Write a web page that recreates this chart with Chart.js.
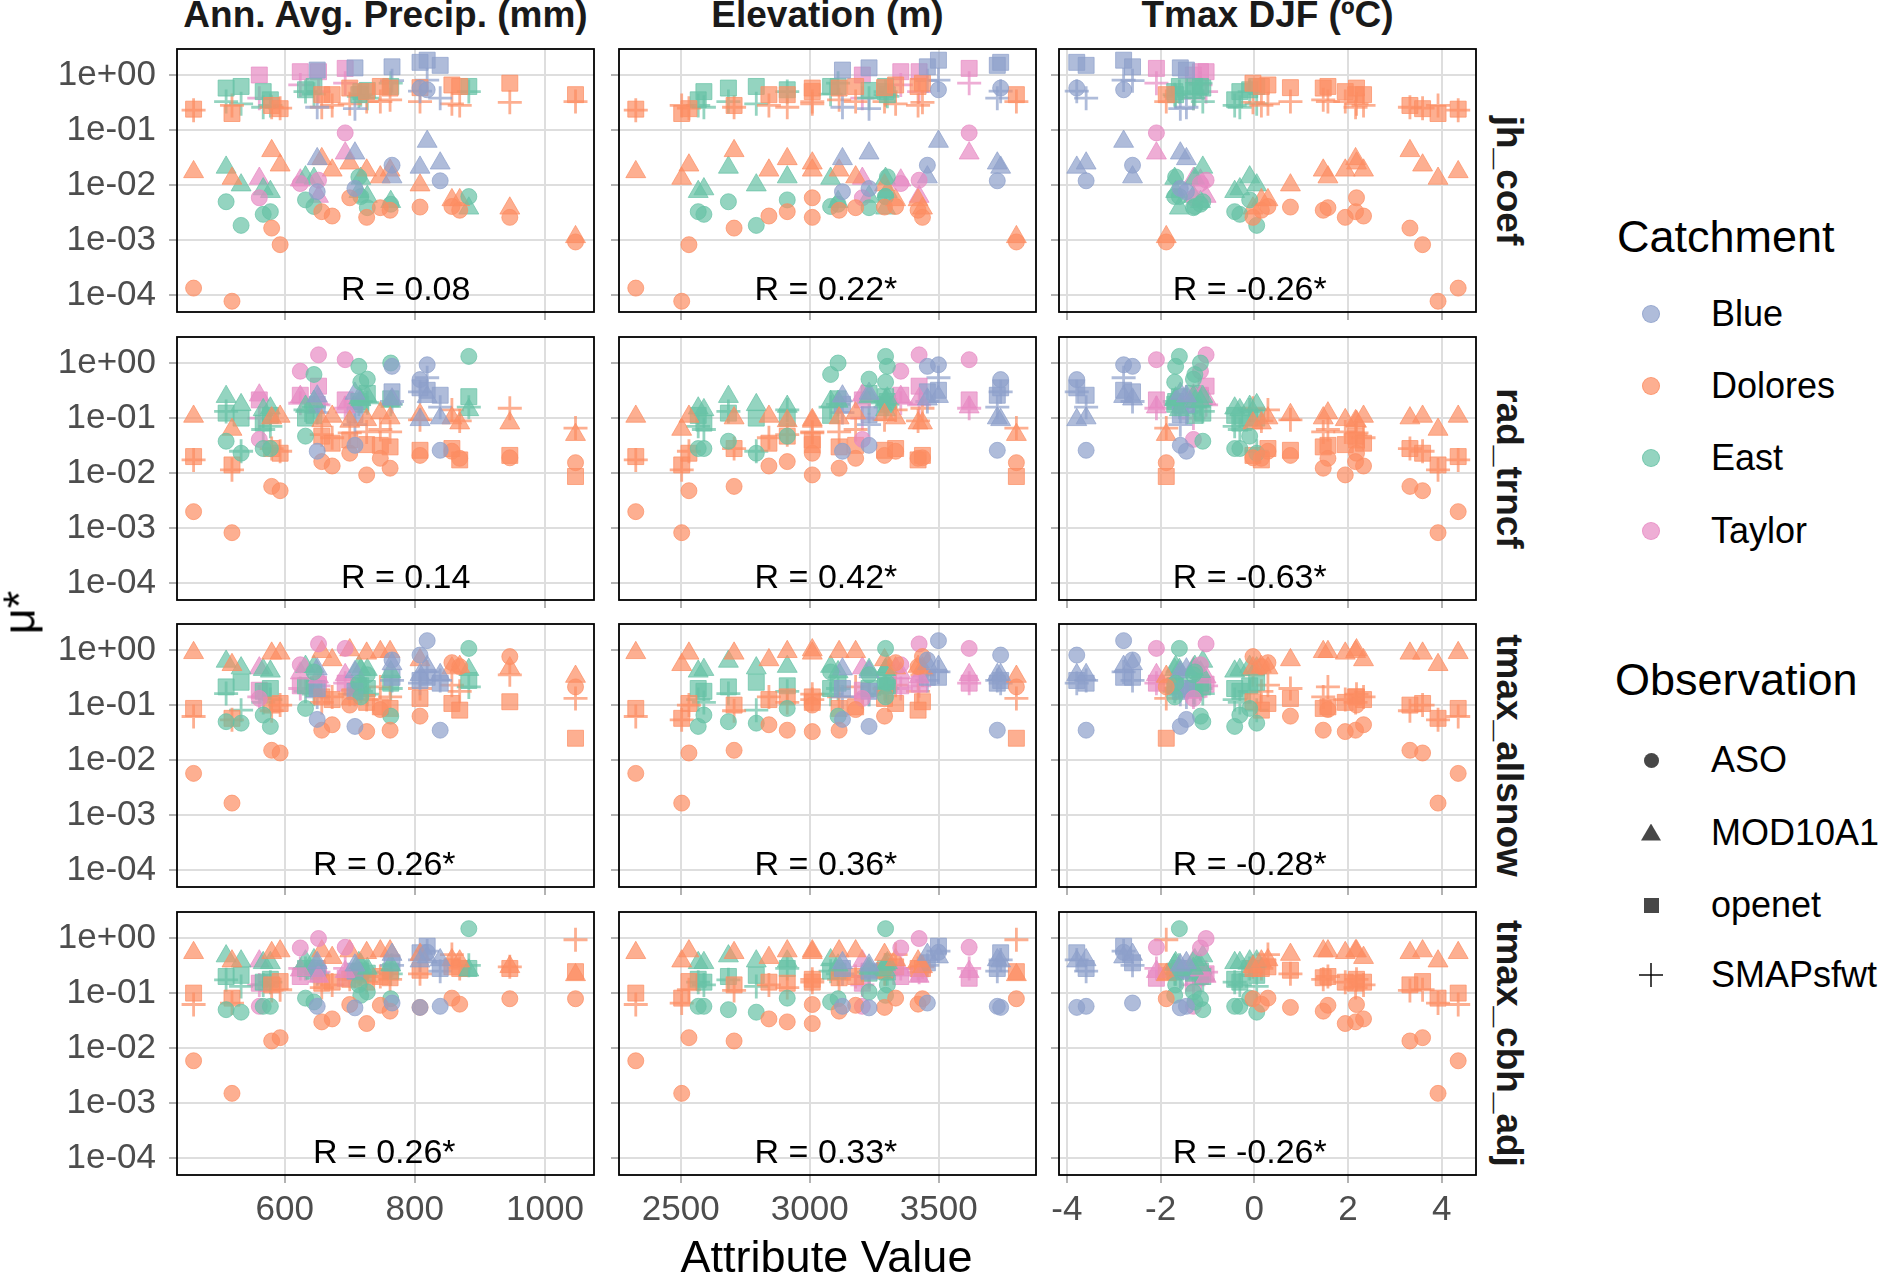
<!DOCTYPE html>
<html>
<head>
<meta charset="utf-8">
<script src="https://cdn.jsdelivr.net/npm/chart.js@4/dist/chart.umd.min.js"></script>
<style>
html,body{margin:0;padding:0;background:#ffffff;}
body{width:1879px;height:1273px;position:relative;overflow:hidden;font-family:"Liberation Sans",Arial,sans-serif;color:#000;}
canvas{position:absolute;}
.txt{position:absolute;white-space:nowrap;}
.strip{font-weight:bold;font-size:37px;line-height:37px;text-align:center;color:#1a1a1a;}
.title{font-size:45px;line-height:45px;}
.lab{font-size:36px;line-height:36px;}
.sym{position:absolute;}
</style>
</head>
<body>
<script>
// ---------------- categories ----------------
const catchments = ['Blue', 'Dolores', 'East', 'Taylor'];
const observations = ['ASO', 'MOD10A1', 'openet', 'SMAPsfwt'];
const parameters = ['jh_coef', 'rad_trncf', 'tmax_allsnow', 'tmax_cbh_adj'];
const attributeTitles = ['Ann. Avg. Precip. (mm)', 'Elevation (m)', 'Tmax DJF (\u00BAC)'];

// ---------------- tick labels ----------------
const precipTicks = [600, 800, 1000];
const elevTicks = [2500, 3000, 3500];
const tmaxTicks = [-4, -2, 0, 2, 4];
const muTicks = [1e-4, 1e-3, 1e-2, 1e-1, 1];
const muTickLabels = ['1e-04', '1e-03', '1e-02', '1e-01', '1e+00'];

// ---------------- sites (one entry per sub-basin) ----------------
const siteCatchment = [
  'Blue','Blue','Blue','Blue','Blue','Blue',
  'Dolores','Dolores','Dolores','Dolores','Dolores','Dolores','Dolores','Dolores','Dolores','Dolores','Dolores','Dolores','Dolores','Dolores','Dolores',
  'East','East','East','East','East','East','East','East','East','East','East',
  'Taylor','Taylor','Taylor','Taylor'
];
const annAvgPrecip = [808,839,819,765,708,650, 460,519,580,593,657,673,700,726,747,762,808,857,869,946,1047, 510,533,567,578,632,645,714,717,727,763,883, 693,561,624,652];
const elevation = [3740,3727,3499,3456,3230,3127, 2326,2504,2707,2532,2913,2842,3010,3010,3178,3114,3290,3333,3420,3437,3801, 2685,2793,2590,2568,2913,3081,3301,3294,3230,3110,3294, 3618,3204,3353,3424];
const tmaxDJF = [-3.79,-3.59,-2.79,-2.60,-1.58,-1.45, 4.35,3.92,3.32,3.59,2.16,2.33,2.18,1.94,1.57,1.47,0.77,0.29,0.15,-0.03,-1.88, -1.10,0.05,-0.31,-0.42,-0.10,-1.27,-1.68,-1.70,-1.30,-1.15,-1.60, -2.09,-1.30,-1.15,-1.03];

// ---------------- mu* values ----------------
const jh_coef_ASO = [0.58,0.012,0.54,0.023,0.0087,0.0076, 1.35e-4,7.8e-5,1.66e-3,8.3e-4,3.3e-3,2.75e-3,5.9e-3,2.6e-3,3.9e-3,3.5e-3,4.0e-3,4.1e-3,3.5e-3,2.6e-3,9.3e-4, 5.0e-3,1.86e-3,2.95e-3,3.3e-3,5.4e-3,4.1e-3,1.41e-2,6.2e-3,3.9e-3,4.5e-3,6.2e-3, 8.9e-2,5.9e-3,1.07e-2,1.23e-2];
const jh_coef_MOD10A1 = [2.1e-2,2.5e-2,6.2e-2,1.4e-2,3.8e-2,3.0e-2, 1.74e-2,1.32e-2,4.2e-2,2.3e-2,3.0e-2,1.86e-2,2.5e-2,1.86e-2,1.4e-2,1.86e-2,1.0e-2,5.4e-3,5.4e-3,3.8e-3,1.15e-3, 2.1e-2,1.0e-2,8.5e-3,7.6e-3,1.4e-2,1.32e-2,7.6e-3,1.32e-2,6.2e-3,5.0e-3,3.8e-3, 3.8e-2,1.32e-2,1.23e-2,6.2e-3];
const jh_coef_openet = [1.7,1.5,1.86,1.41,1.35,1.23, 0.24,0.20,0.28,0.245,0.44,0.44,0.58,0.50,0.62,0.58,0.59,0.66,0.62,0.71,0.44, 0.58,0.62,0.50,0.355,0.54,0.62,0.44,0.50,0.525,0.62,0.62, 1.32,1.0,1.15,1.15];
const jh_coef_SMAPsfwt = [0.51,0.38,0.81,0.79,0.245,0.26, 0.23,0.28,0.26,0.25,0.26,0.28,0.30,0.33,0.33,0.355,0.33,0.30,0.28,0.32,0.33, 0.33,0.30,0.26,0.28,0.50,0.45,0.41,0.44,0.38,0.71,0.50, 0.71,0.38,0.66,0.50];

const rad_trncf_ASO = [0.50,2.6e-2,0.93,0.87,3.2e-2,2.5e-2, 2.0e-3,8.3e-4,5.75e-3,4.8e-3,1.62e-2,1.35e-2,2.3e-2,9.3e-3,1.86e-2,1.23e-2,2.1e-2,2.5e-2,1.86e-2,1.9e-2,1.55e-2, 3.8e-2,2.3e-2,2.8e-2,2.8e-2,4.7e-2,0.62,0.87,0.45,0.51,1.0,1.32, 1.15,4.1e-2,0.71,1.41];
const rad_trncf_MOD10A1 = [9.3e-2,0.10,0.245,0.22,0.28,0.25, 0.107,6.2e-2,0.10,0.107,8.9e-2,0.107,8.7e-2,9.3e-2,0.123,0.10,0.115,0.10,8.1e-2,8.1e-2,5.0e-2, 0.245,0.174,0.141,0.151,0.162,0.20,0.23,0.214,0.245,0.20,0.141, 0.158,0.26,0.245,0.224];
const rad_trncf_openet = [0.355,0.26,0.32,0.30,0.115,0.178, 2.0e-2,1.41e-2,2.8e-2,2.3e-2,4.7e-2,3.5e-2,4.0e-2,3.3e-2,3.2e-2,3.0e-2,2.6e-2,2.8e-2,1.74e-2,2.1e-2,8.7e-3, 0.123,0.10,8.1e-2,0.112,0.10,0.112,0.20,0.178,0.28,0.224,0.245, 0.214,0.214,0.26,0.38];
const rad_trncf_SMAPsfwt = [0.30,0.158,0.54,0.20,7.6e-2,0.126, 1.74e-2,1.15e-2,2.8e-2,2.5e-2,5.0e-2,4.4e-2,5.4e-2,5.6e-2,6.2e-2,5.6e-2,9.3e-2,0.141,8.9e-2,0.151,6.6e-2, 0.132,2.5e-2,6.2e-2,7.1e-2,0.141,0.158,0.178,0.20,0.19,0.178,0.158, 0.151,0.10,0.186,0.174];

const tmax_allsnow_ASO = [0.81,3.5e-2,1.48,0.66,4.1e-2,5.5e-2, 5.75e-3,1.66e-3,1.51e-2,1.35e-2,3.5e-2,4.4e-2,0.10,3.3e-2,8.3e-2,3.5e-2,6.3e-2,0.59,0.50,0.76,0.214, 5.0e-2,4.7e-2,6.6e-2,4.1e-2,8.7e-2,0.40,0.25,0.141,0.355,6.3e-2,1.07, 1.07,0.132,0.54,1.29];
const tmax_allsnow_MOD10A1 = [0.355,0.355,0.50,0.56,0.40,0.45, 0.89,0.54,0.87,0.87,0.93,0.66,1.0,0.87,0.93,0.93,0.66,0.47,0.50,0.47,0.33, 0.62,0.47,0.44,0.41,0.50,0.50,0.50,0.44,0.44,0.40,0.44, 0.355,0.47,0.38,0.32];
const tmax_allsnow_openet = [0.28,0.25,0.32,0.32,0.178,0.20, 8.7e-2,5.75e-2,0.10,0.107,0.141,0.126,0.141,0.112,9.3e-2,8.7e-2,0.132,0.107,8.1e-2,0.115,2.5e-2, 0.214,0.26,0.178,0.20,0.224,0.20,0.224,0.224,0.20,0.25,0.28, 0.25,0.186,0.224,0.24];
const tmax_allsnow_SMAPsfwt = [0.25,0.28,0.40,0.28,0.158,0.141, 6.2e-2,5.4e-2,7.9e-2,0.10,0.112,0.141,0.158,0.126,0.214,0.141,0.20,0.23,0.178,0.355,0.132, 0.162,8.1e-2,0.112,0.126,0.178,0.158,0.20,0.178,0.158,0.20,0.214, 0.25,0.141,0.20,0.224];

const tmax_cbh_adj_ASO = [5.5e-2,5.75e-2,0.55,6.6e-2,5.4e-2,5.75e-2, 5.9e-3,1.51e-3,1.35e-2,1.55e-2,3.0e-2,3.4e-2,6.2e-2,2.8e-2,6.0e-2,4.7e-2,5.5e-2,8.1e-2,6.3e-2,7.9e-2,7.9e-2, 5.0e-2,4.5e-2,5.75e-2,5.75e-2,8.1e-2,6.9e-2,0.141,9.1e-2,0.105,7.9e-2,1.48, 0.68,5.75e-2,0.66,0.98];
const tmax_cbh_adj_MOD10A1 = [0.38,0.40,0.45,0.50,0.32,0.355, 0.54,0.38,0.54,0.58,0.58,0.44,0.58,0.54,0.58,0.58,0.50,0.40,0.38,0.30,0.214, 0.47,0.38,0.355,0.355,0.38,0.40,0.355,0.33,0.28,0.32,0.26, 0.245,0.38,0.26,0.20];
const tmax_cbh_adj_openet = [0.54,0.28,0.71,0.355,0.25,0.28, 0.10,8.1e-2,0.141,0.162,0.151,0.158,0.178,0.158,0.20,0.19,0.26,0.30,0.28,0.28,0.245, 0.20,0.21,0.158,0.178,0.28,0.25,0.24,0.25,0.23,0.25,0.28, 0.186,0.151,0.20,0.224];
const tmax_cbh_adj_SMAPsfwt = [0.40,0.25,0.58,0.32,0.20,0.224, 6.2e-2,6.6e-2,0.112,0.115,0.126,0.141,0.178,0.158,0.20,0.178,0.224,0.50,0.28,0.30,0.93, 0.174,0.132,0.141,0.158,0.28,0.25,0.224,0.224,0.24,0.224,0.32, 0.28,0.141,0.28,0.24];

// correlation labels per parameter row (precip, elevation, tmax)
const corLabels_jh_coef = ['R = 0.08', 'R = 0.22*', 'R = -0.26*'];
const corLabels_rad_trncf = ['R = 0.14', 'R = 0.42*', 'R = -0.63*'];
const corLabels_tmax_allsnow = ['R = 0.26*', 'R = 0.36*', 'R = -0.28*'];
const corLabels_tmax_cbh_adj = ['R = 0.26*', 'R = 0.33*', 'R = -0.26*'];

// ---------------- assembly / styling ----------------
const FONT = '"Liberation Sans", Arial, sans-serif';
const catchmentColors = ['141,160,203', '252,141,98', '102,194,165', '231,138,195'];
const ALPHA = 0.7;
const shapeStyle = ['circle', 'triangle', 'rect', 'cross'];
const shapeRadius = [8, 11.5, 11.3, 12];
const shapeBorder = [1, 1, 1, 2.8];

const colAttr = [annAvgPrecip, elevation, tmaxDJF];
const colTicks = [precipTicks, elevTicks, tmaxTicks];
const colRange = [[434.5, 1075.4], [2261, 3877], [-4.169, 4.73]];
const rowSeries = [
  [jh_coef_ASO, jh_coef_MOD10A1, jh_coef_openet, jh_coef_SMAPsfwt],
  [rad_trncf_ASO, rad_trncf_MOD10A1, rad_trncf_openet, rad_trncf_SMAPsfwt],
  [tmax_allsnow_ASO, tmax_allsnow_MOD10A1, tmax_allsnow_openet, tmax_allsnow_SMAPsfwt],
  [tmax_cbh_adj_ASO, tmax_cbh_adj_MOD10A1, tmax_cbh_adj_openet, tmax_cbh_adj_SMAPsfwt]
];
const rowCorLabels = [corLabels_jh_coef, corLabels_rad_trncf, corLabels_tmax_allsnow, corLabels_tmax_cbh_adj];
const corLabelAnchorX = [[786, 3063, -0.1], [786, 3063, -0.1], [753, 3063, -0.1], [753, 3063, -0.1]];

const colLeft = [177, 619, 1059];
const rowTop = [49, 337, 624, 912];
const panelW = 417, panelH = 263;

const panelBox = {
  id: 'panelBox',
  afterDraw(chart) {
    const a = chart.chartArea, ctx = chart.ctx;
    ctx.save();
    ctx.strokeStyle = '#000';
    ctx.lineWidth = 1.8;
    ctx.strokeRect(a.left, a.top, a.right - a.left, a.bottom - a.top);
    ctx.restore();
  }
};
const corLabel = {
  id: 'corLabel',
  afterDatasetsDraw(chart, args, opts) {
    const ctx = chart.ctx;
    const px = chart.scales.x.getPixelForValue(opts.x);
    const py = chart.scales.y.getPixelForValue(1e-4) + 5;
    ctx.save();
    ctx.font = '34px ' + FONT;
    ctx.fillStyle = '#000';
    ctx.textAlign = 'center';
    ctx.textBaseline = 'alphabetic';
    ctx.fillText(opts.text, px, py);
    ctx.restore();
  }
};

function zeroPad(s) { s.paddingTop = 0; s.paddingBottom = 0; s.paddingLeft = 0; s.paddingRight = 0; }

function makePanel(r, c) {
  const leftM = c === 0 ? 177 : 20;
  const bottomM = r === 3 ? 75 : 14;
  const topM = 3, rightM = 3;
  const W = leftM + panelW + rightM, H = topM + panelH + bottomM;
  const cv = document.createElement('canvas');
  cv.width = W; cv.height = H;
  cv.style.width = W + 'px'; cv.style.height = H + 'px';
  cv.style.left = (colLeft[c] - leftM) + 'px';
  cv.style.top = (rowTop[r] - topM) + 'px';
  document.body.appendChild(cv);

  const datasets = [];
  observations.forEach((obs, oi) => {
    catchments.forEach((cat, ci) => {
      const pts = [];
      for (let i = 0; i < siteCatchment.length; i++) {
        if (siteCatchment[i] === cat) pts.push({ x: colAttr[c][i], y: rowSeries[r][oi][i] });
      }
      const col = 'rgba(' + catchmentColors[ci] + ',' + ALPHA + ')';
      datasets.push({
        label: cat + ' ' + obs,
        data: pts,
        showLine: false,
        clip: 0,
        pointStyle: shapeStyle[oi],
        pointRadius: shapeRadius[oi],
        pointHoverRadius: shapeRadius[oi],
        pointBackgroundColor: col,
        pointBorderColor: col,
        pointBorderWidth: shapeBorder[oi],
        backgroundColor: col,
        borderColor: col
      });
    });
  });

  new Chart(cv, {
    type: 'scatter',
    data: { datasets },
    plugins: [panelBox, corLabel],
    options: {
      responsive: false,
      animation: false,
      devicePixelRatio: 1,
      events: [],
      layout: { autoPadding: false, padding: { top: topM, right: rightM, left: 0, bottom: 0 } },
      plugins: {
        legend: { display: false },
        tooltip: { enabled: false },
        corLabel: { text: rowCorLabels[r][c], x: corLabelAnchorX[r][c] }
      },
      scales: {
        x: {
          type: 'linear',
          min: colRange[c][0], max: colRange[c][1],
          afterBuildTicks: s => { s.ticks = colTicks[c].map(v => ({ value: v })); },
          afterFit: s => { s.height = bottomM; zeroPad(s); },
          border: { display: false },
          grid: { color: '#DEDEDE', lineWidth: 2, drawTicks: true, tickLength: 8, tickColor: '#B3B3B3', tickWidth: 2 },
          ticks: {
            display: r === 3, autoSkip: false, maxRotation: 0, minRotation: 0, padding: 6,
            color: '#4D4D4D', font: { family: FONT, size: 35 },
            callback: v => String(v)
          }
        },
        y: {
          type: 'logarithmic',
          min: 4.97e-5, max: 2.97,
          afterBuildTicks: s => { s.ticks = muTicks.map(v => ({ value: v })); },
          afterFit: s => { s.width = leftM; zeroPad(s); },
          border: { display: false },
          grid: { color: '#DEDEDE', lineWidth: 2, drawTicks: true, tickLength: 8, tickColor: '#B3B3B3', tickWidth: 2 },
          ticks: {
            display: c === 0, autoSkip: false, padding: 13,
            color: '#4D4D4D', font: { family: FONT, size: 35 },
            callback: v => {
              const k = muTicks.findIndex(t => Math.abs(Math.log10(t) - Math.log10(v)) < 1e-6);
              return k >= 0 ? muTickLabels[k] : '';
            }
          }
        }
      }
    }
  });
}

for (let r = 0; r < 4; r++) for (let c = 0; c < 3; c++) makePanel(r, c);

// ---------------- text elements ----------------
function addText(cls, text, css) {
  const d = document.createElement('div');
  d.className = 'txt ' + cls;
  d.textContent = text;
  Object.assign(d.style, css);
  document.body.appendChild(d);
  return d;
}
attributeTitles.forEach((t, c) => {
  addText('strip', t, { left: colLeft[c] + 'px', width: panelW + 'px', top: '-4px' });
});
parameters.forEach((p, r) => {
  const cy = rowTop[r] + panelH / 2;
  addText('strip', p, {
    left: (1509 - panelH / 2) + 'px', width: panelH + 'px', top: (cy - 18.5) + 'px',
    height: '37px', transform: 'rotate(90deg)', transformOrigin: '50% 50%'
  });
});
addText('title', 'Attribute Value', { left: colLeft[0] + 'px', width: (colLeft[2] + panelW - colLeft[0]) + 'px', top: '1234px', textAlign: 'center' });
addText('title', '\u03BC*', {
  left: (19 - 150) + 'px', width: '300px', top: (612 - 22.5) + 'px', height: '45px', textAlign: 'center',
  transform: 'rotate(-90deg)', transformOrigin: '50% 50%'
});

// ---------------- legends ----------------
addText('title', 'Catchment', { left: '1617px', top: '214px' });
const catchY = [314, 386, 458, 531];
catchments.forEach((cat, i) => {
  const s = document.createElement('div');
  s.className = 'sym';
  const col = 'rgba(' + catchmentColors[i] + ',' + ALPHA + ')';
  Object.assign(s.style, { left: (1651 - 9) + 'px', top: (catchY[i] - 9) + 'px', width: '16px', height: '16px', borderRadius: '50%', background: col, border: '1px solid ' + col });
  document.body.appendChild(s);
  addText('lab', cat, { left: '1711px', top: (catchY[i] - 17.6) + 'px' });
});

addText('title', 'Observation', { left: '1615px', top: '657px' });
const obsY = [760, 833, 905, 975];
const obsCol = 'rgba(0,0,0,0.72)';
observations.forEach((obs, i) => {
  const y = obsY[i], x = 1651;
  if (i === 0) {
    const s = document.createElement('div'); s.className = 'sym';
    Object.assign(s.style, { left: (x - 7.5) + 'px', top: (y - 7.5) + 'px', width: '15px', height: '15px', borderRadius: '50%', background: obsCol });
    document.body.appendChild(s);
  } else if (i === 1) {
    const s = document.createElement('div'); s.className = 'sym';
    Object.assign(s.style, { left: (x - 10) + 'px', top: (y - 9.5) + 'px', width: '20px', height: '17px', background: obsCol, clipPath: 'polygon(50% 0, 100% 100%, 0 100%)' });
    document.body.appendChild(s);
  } else if (i === 2) {
    const s = document.createElement('div'); s.className = 'sym';
    Object.assign(s.style, { left: (x - 7.5) + 'px', top: (y - 7.5) + 'px', width: '15px', height: '15px', background: obsCol });
    document.body.appendChild(s);
  } else {
    const h = document.createElement('div'); h.className = 'sym';
    Object.assign(h.style, { left: (x - 12) + 'px', top: (y - 1.2) + 'px', width: '24px', height: '2.4px', background: obsCol });
    document.body.appendChild(h);
    const v = document.createElement('div'); v.className = 'sym';
    Object.assign(v.style, { left: (x - 1.2) + 'px', top: (y - 12) + 'px', width: '2.4px', height: '24px', background: obsCol });
    document.body.appendChild(v);
  }
  addText('lab', obs, { left: '1711px', top: (y - 17.6) + 'px' });
});
</script>
</body>
</html>
